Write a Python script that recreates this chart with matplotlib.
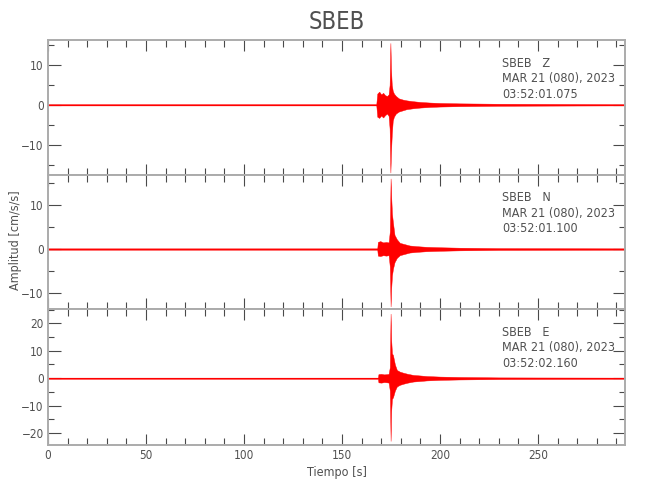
import matplotlib
matplotlib.use("Agg")
import matplotlib.pyplot as plt
from matplotlib.ticker import MultipleLocator

plt.rcParams['font.family'] = ['DejaVu Sans']
plt.rcParams['font.stretch'] = 'condensed'
plt.rcParams['axes.unicode_minus'] = True

# ---------------- data (envelopes) ----------------
station = "SBEB"
components = ["Z", "N", "E"]
date_label = "MAR 21 (080), 2023"
start_times = ["03:52:01.075", "03:52:01.100", "03:52:02.160"]

t_z = [0, 167.5, 168.0, 169.0, 170.0, 171.0, 172.0, 173.0, 173.8, 174.3, 174.7, 175.0, 175.4, 175.9, 176.5, 177.5, 179.0, 181.0, 183.0, 186.0, 190.0, 195.0, 200.0, 210.0, 230.0, 294.0]
up_z = [0.15, 0.15, 2.8, 3.3, 2.6, 3.0, 2.4, 2.2, 2.6, 5.0, 15.5, 9.0, 5.0, 3.5, 2.8, 2.2, 1.6, 1.3, 1.1, 0.9, 0.7, 0.55, 0.45, 0.35, 0.25, 0.15]
lo_z = [-0.15, -0.15, -3.0, -3.3, -2.7, -3.2, -2.6, -2.2, -2.8, -6.0, -17.0, -12.0, -7.5, -4.0, -3.0, -2.2, -1.7, -1.4, -1.1, -0.9, -0.7, -0.55, -0.45, -0.35, -0.25, -0.15]

t_n = [0, 168.0, 168.3, 169.5, 171.0, 172.5, 173.8, 174.4, 174.8, 175.1, 175.5, 176.0, 176.8, 178.0, 179.5, 182.0, 184.5, 188.0, 193.0, 200.0, 210.0, 230.0, 294.0]
up_n = [0.15, 0.15, 1.6, 1.8, 1.5, 1.6, 1.5, 4.0, 16.0, 12.0, 8.0, 6.0, 3.2, 2.2, 1.4, 1.1, 0.8, 0.65, 0.5, 0.4, 0.3, 0.2, 0.15]
lo_n = [-0.15, -0.15, -1.5, -1.6, -1.4, -1.5, -1.4, -4.0, -13.0, -9.0, -6.0, -4.5, -3.0, -2.0, -1.4, -1.1, -0.8, -0.65, -0.5, -0.4, -0.3, -0.2, -0.15]

t_e = [0, 168.3, 168.6, 170.0, 171.5, 173.0, 173.8, 174.4, 174.8, 175.1, 175.5, 176.0, 177.0, 178.0, 179.5, 181.3, 183.5, 186.4, 190.0, 193.2, 200.0, 210.0, 230.0, 294.0]
up_e = [0.2, 0.2, 1.5, 1.6, 1.4, 1.5, 1.6, 4.0, 23.5, 14.0, 9.0, 8.5, 5.0, 3.0, 2.4, 2.0, 1.6, 1.2, 1.0, 0.8, 0.6, 0.45, 0.3, 0.2]
lo_e = [-0.2, -0.2, -1.5, -1.6, -1.4, -1.5, -1.6, -4.5, -22.8, -12.0, -7.5, -7.0, -4.5, -3.0, -2.4, -2.0, -1.6, -1.2, -1.0, -0.8, -0.6, -0.45, -0.3, -0.2]

times = [t_z, t_n, t_e]
uppers = [up_z, up_n, up_e]
lowers = [lo_z, lo_n, lo_e]

ylims = [(-17.5, 16.25), (-13.6, 16.9), (-24.3, 25.2)]
y_major = [10, 10, 10]
y_minor = [5, 5, 5]
xlim = (0, 294.4)

fig = plt.figure(figsize=(6.5, 5), dpi=100)
W, H = 650, 500
left, right = 48, 625
edges = [40, 174.5, 309, 445]

text_c = '#505050'
spine_c = '#ababab'
tick_c = '#4a4a4a'

axes = []
for i in range(3):
    top, bot = edges[i], edges[i + 1]
    ax = fig.add_axes([left / W, 1 - bot / H, (right - left) / W, (bot - top) / H])
    axes.append(ax)
    ax.fill_between(times[i], lowers[i], uppers[i], color='#ff0000', linewidth=0.3, edgecolor='#ff0000')
    ax.plot([xlim[0], xlim[1]], [0, 0], color='#ff0000', lw=0.8)
    ax.set_xlim(*xlim)
    ax.set_ylim(*ylims[i])
    ax.xaxis.set_major_locator(MultipleLocator(50))
    ax.xaxis.set_minor_locator(MultipleLocator(10))
    ax.yaxis.set_major_locator(MultipleLocator(y_major[i]))
    ax.yaxis.set_minor_locator(MultipleLocator(y_minor[i]))
    ax.tick_params(which='both', direction='in', top=True, right=True, colors=tick_c,
                   labelcolor=text_c, labelsize=8.5, width=0.8, pad=3)
    ax.tick_params(axis='x', which='major', length=8)
    ax.tick_params(axis='x', which='minor', length=5)
    ax.tick_params(axis='y', which='major', length=9)
    ax.tick_params(axis='y', which='minor', length=4)
    for s in ax.spines.values():
        s.set_color(spine_c)
        s.set_linewidth(1.4)
    if i < 2:
        ax.tick_params(axis='x', labelbottom=False)
    ax.text(0.787, 0.875, f"{station}   {components[i]}\n{date_label}\n{start_times[i]}",
            transform=ax.transAxes, ha='left', va='top', fontsize=9, color=text_c,
            linespacing=1.25)

axes[2].set_xlabel("Tiempo [s]", fontsize=9, color=text_c, labelpad=3)
fig.text(16 / W, 1 - 240 / H, "Amplitud [cm/s/s]", rotation=90, ha='center', va='center',
         fontsize=9, color=text_c)
fig.text((left + right) / 2 / W, 1 - 22 / H, station, ha='center', va='center',
         fontsize=17, color=text_c)

fig.savefig("out.png", dpi=100)
